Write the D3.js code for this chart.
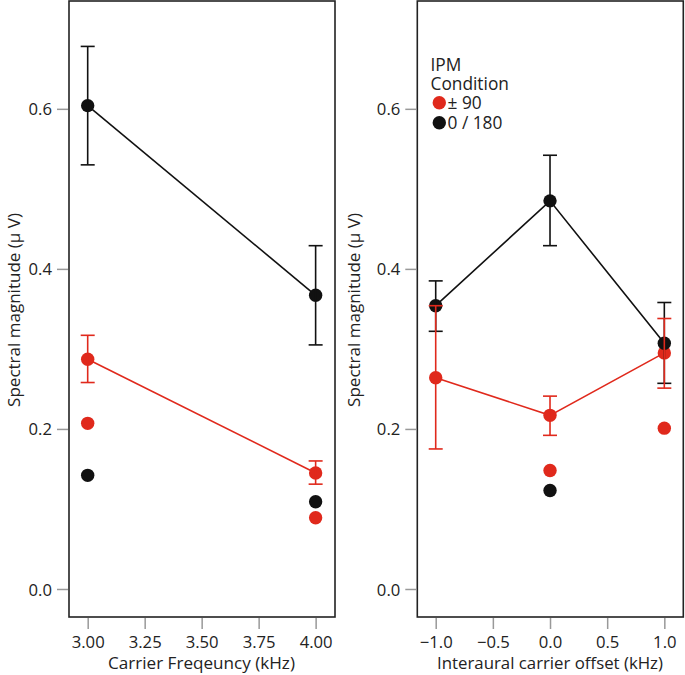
<!DOCTYPE html>
<html><head><meta charset="utf-8">
<script src="https://cdn.jsdelivr.net/npm/d3@7"></script>
<style>body{margin:0;background:#fff}svg{display:block}text{font-family:"Open Sans",sans-serif}</style>
</head><body><svg id="c" width="685" height="675"></svg>
<script>
// ----- data -----
const leftX = [3.00, 4.00];
const leftBlackMean = [0.604, 0.367];
const leftBlackHi = [0.678, 0.429];
const leftBlackLo = [0.530, 0.305];
const leftRedMean = [0.287, 0.145];
const leftRedHi = [0.317, 0.160];
const leftRedLo = [0.258, 0.131];
const leftRedDots = [0.207, 0.089];
const leftBlackDots = [0.142, 0.109];
const leftTicks = [3.00, 3.25, 3.50, 3.75, 4.00];

const rightX = [-1.0, 0.0, 1.0];
const rightBlackMean = [0.354, 0.485, 0.307];
const rightBlackHi = [0.385, 0.542, 0.358];
const rightBlackLo = [0.322, 0.429, 0.257];
const rightRedMean = [0.264, 0.217, 0.295];
const rightRedHi = [0.354, 0.241, 0.338];
const rightRedLo = [0.175, 0.192, 0.251];
const rightRedDotsX = [0.0, 1.0];
const rightRedDots = [0.148, 0.201];
const rightBlackDotsX = [0.0];
const rightBlackDots = [0.123];
const rightTicks = [-1.0, -0.5, 0.0, 0.5, 1.0];

const yTicks = [0.0, 0.2, 0.4, 0.6];
const legendTitle = ["IPM", "Condition"];
const legendLabels = ["\u00b1 90", "0 / 180"];

const RED = "#e0291c", BLACK = "#111111", INK = "#222";
const svg = d3.select("#c");

// size a font so that a sample string has the wanted width
function fitSize(str, target, base = 16) {
  const t = svg.append("text").attr("font-size", base).text(str);
  const w = t.node().getComputedTextLength();
  t.remove();
  return base * target / w;
}
const tickFS = fitSize("3.00", 33);
const xTitleFS = fitSize("Carrier Freqeuncy (kHz)", 187);
const xTitle2FS = fitSize("Interaural carrier offset (kHz)", 226);
const yTitleFS = fitSize("Spectral magnitude (\u03bc V)", 194);
const legFS = fitSize("Condition", 78.5);

const y = d3.scaleLinear().domain([-0.035, 0.736]).range([617, 0]);

function panel(opts) {
  const x = d3.scaleLinear().domain(opts.xdom).range([opts.x0, opts.x1]);
  const g = svg.append("g");
  g.append("rect").attr("x", opts.x0).attr("y", 1).attr("width", opts.x1 - opts.x0).attr("height", 616)
    .attr("fill", "none").attr("stroke", INK).attr("stroke-width", 1.6);
  const xa = g.append("g").attr("transform", `translate(0,618)`)
    .call(d3.axisBottom(x).tickValues(opts.ticks).tickFormat(opts.fmt).tickSize(11).tickPadding(0));
  const ya = g.append("g").attr("transform", `translate(${opts.x0 - 1},0)`)
    .call(d3.axisLeft(y).tickValues(yTicks).tickFormat(d3.format(".1f")).tickSize(11).tickPadding(5));
  [xa, ya].forEach(a => {
    a.select(".domain").remove();
    a.selectAll(".tick line").attr("stroke", "#999").attr("stroke-width", 1.5);
    a.selectAll(".tick text").attr("font-size", tickFS).attr("fill", INK).attr("font-family", '"Open Sans",sans-serif');
  });
  xa.selectAll(".tick text").attr("dy", null).attr("y", 30);
  ya.selectAll(".tick text").attr("dy", "0.36em");
  g.append("text").attr("x", opts.tcx).attr("y", 669).attr("text-anchor", "middle")
    .attr("font-size", opts.xfs).attr("fill", INK).text(opts.xtitle);
  g.append("text").attr("transform", `translate(${opts.ytx},310) rotate(-90)`).attr("text-anchor", "middle")
    .attr("font-size", yTitleFS).attr("fill", INK).text("Spectral magnitude (\u03bc V)");

  const line = d3.line().x(d => x(d[0])).y(d => y(d[1]));
  function series(xs, mean, color) {
    g.append("path").datum(xs.map((v, i) => [v, mean[i]])).attr("d", line)
      .attr("fill", "none").attr("stroke", color).attr("stroke-width", 1.6);
  }
  function pts(xs, vals, color) {
    g.append("g").selectAll("circle").data(xs.map((v, i) => [v, vals[i]])).join("circle")
      .attr("cx", d => x(d[0])).attr("cy", d => y(d[1])).attr("r", 6.7).attr("fill", color);
  }
  function errs(xs, lo, hi, color) {
    const eg = g.append("g").attr("stroke", color).attr("stroke-width", 1.6);
    xs.forEach((v, i) => {
      eg.append("line").attr("x1", x(v)).attr("x2", x(v)).attr("y1", y(lo[i])).attr("y2", y(hi[i]));
      [lo[i], hi[i]].forEach(e => eg.append("line").attr("x1", x(v) - 7).attr("x2", x(v) + 7).attr("y1", y(e)).attr("y2", y(e)));
    });
  }
  pts(opts.rdx, opts.rdots, RED);
  pts(opts.bdx, opts.bdots, BLACK);
  series(opts.xs, opts.rm, RED);
  pts(opts.xs, opts.rm, RED);
  series(opts.xs, opts.bm, BLACK);
  pts(opts.xs, opts.bm, BLACK);
  errs(opts.xs, opts.blo, opts.bhi, BLACK);
  errs(opts.xs, opts.rlo, opts.rhi, RED);
}

panel({x0: 69, x1: 335, xdom: [2.918, 4.085], ticks: leftTicks, fmt: d3.format(".2f"),
  xtitle: "Carrier Freqeuncy (kHz)", tcx: 201.5, xfs: xTitleFS, ytx: 20,
  xs: leftX, bm: leftBlackMean, bhi: leftBlackHi, blo: leftBlackLo,
  rm: leftRedMean, rhi: leftRedHi, rlo: leftRedLo,
  rdx: leftX, rdots: leftRedDots, bdx: leftX, bdots: leftBlackDots});

panel({x0: 417.3, x1: 683.3, xdom: [-1.161, 1.166], ticks: rightTicks, fmt: d3.format(".1f"),
  xtitle: "Interaural carrier offset (kHz)", tcx: 550, xfs: xTitle2FS, ytx: 360,
  xs: rightX, bm: rightBlackMean, bhi: rightBlackHi, blo: rightBlackLo,
  rm: rightRedMean, rhi: rightRedHi, rlo: rightRedLo,
  rdx: rightRedDotsX, rdots: rightRedDots, bdx: rightBlackDotsX, bdots: rightBlackDots});

// legend
const lg = svg.append("g").attr("font-size", legFS).attr("fill", INK);
legendTitle.forEach((t, i) => lg.append("text").attr("x", 430.5).attr("y", 70.5 + i * 19.5).text(t));
[RED, BLACK].forEach((c, i) => {
  lg.append("circle").attr("cx", 439.3).attr("cy", 102.7 + i * 20).attr("r", 6.7).attr("fill", c);
  lg.append("text").attr("x", 447.5).attr("y", 109.3 + i * 19.2).text(legendLabels[i]);
});
</script></body></html>
